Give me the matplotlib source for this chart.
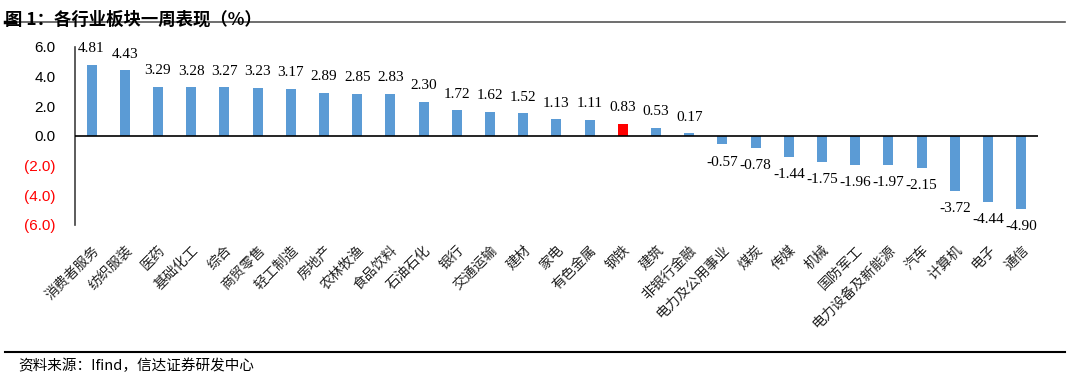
import matplotlib
matplotlib.use("Agg")
import matplotlib.pyplot as plt
from matplotlib.lines import Line2D
import numpy as np

categories = ["消费者服务", "纺织服装", "医药", "基础化工", "综合", "商贸零售", "轻工制造",
              "房地产", "农林牧渔", "食品饮料", "石油石化", "银行", "交通运输", "建材",
              "家电", "有色金属", "钢铁", "建筑", "非银行金融", "电力及公用事业", "煤炭",
              "传媒", "机械", "国防军工", "电力设备及新能源", "汽车", "计算机", "电子", "通信"]
values = [4.81, 4.43, 3.29, 3.28, 3.27, 3.23, 3.17, 2.89, 2.85, 2.83, 2.30, 1.72, 1.62,
          1.52, 1.13, 1.11, 0.83, 0.53, 0.17, -0.57, -0.78, -1.44, -1.75, -1.96, -1.97,
          -2.15, -3.72, -4.44, -4.90]
highlight = "钢铁"
yticks = [6, 4, 2, 0, -2, -4, -6]

cjk = ["Noto Sans CJK SC", "DejaVu Sans"]
blue = "#5B9BD5"
red = "#FF0000"

fig = plt.figure(figsize=(10.8, 3.76), dpi=100)
ax = fig.add_axes([0.0694, 0.4016, 0.8916, 0.4734])

x = np.arange(len(categories))
colors = [red if c == highlight else blue for c in categories]
ax.bar(x, values, width=0.3, color=colors, edgecolor="none", zorder=2)

for xi, v in zip(x, values):
    if v >= 0:
        ax.annotate(f"{v:.2f}", (xi, v), xytext=(0, 7), textcoords="offset points",
                    ha="center", va="bottom", fontsize=11, family="Liberation Serif")
    else:
        ax.annotate(f"{v:.2f}", (xi, v), xytext=(0, -8), textcoords="offset points",
                    ha="center", va="top", fontsize=11, family="Liberation Serif")

ax.axhline(0, color="black", lw=1.2, zorder=3)
ax.set_xlim(-0.5, len(categories) - 0.5)
ax.set_ylim(-6, 6)
ax.set_yticks(yticks)
ax.set_yticklabels([f"{t:.1f}" if t >= 0 else f"({abs(t):.1f})" for t in yticks],
                   family="Liberation Sans", fontsize=11)
for lab, t in zip(ax.get_yticklabels(), yticks):
    lab.set_color(red if t < 0 else "black")
ax.tick_params(axis="y", length=0, pad=14)

ax.set_xticks(x)
ax.set_xticklabels(categories, rotation=45, ha="right", rotation_mode="anchor",
                   family=cjk, fontsize=10, color="#222222")
ax.tick_params(axis="x", length=0, pad=13)

for s in ["top", "right", "bottom"]:
    ax.spines[s].set_visible(False)
ax.spines["left"].set_color("#404040")
ax.spines["left"].set_linewidth(1.2)

fig.text(0.005, 0.972, "图 1：各行业板块一周表现（%）", family=cjk, fontsize=12.5,
         fontweight="bold", va="top", ha="left")
fig.add_artist(Line2D([0.005, 0.986], [0.942, 0.942], color="#555555", lw=1.2))
fig.add_artist(Line2D([0.005, 0.014], [0.942, 0.942], color="black", lw=2.5))
fig.add_artist(Line2D([0.005, 0.986], [0.064, 0.064], color="black", lw=1.5))
fig.text(0.017, 0.028, "资料来源：Ifind，信达证券研发中心", family=cjk, fontsize=10.5,
         style="italic", va="center", ha="left")

fig.savefig("out.png", dpi=100)
